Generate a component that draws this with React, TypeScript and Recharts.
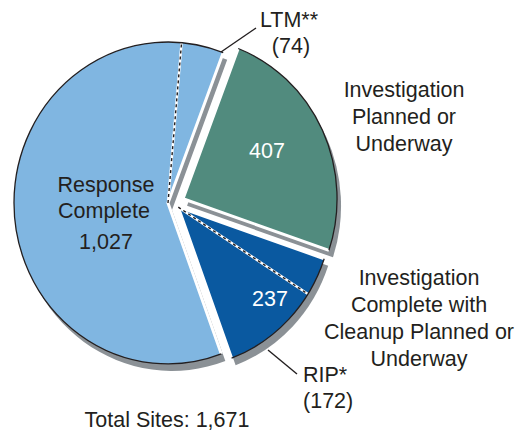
import React from "react";
import { PieChart, Pie } from "recharts";

// three main groups, clockwise from the top-right
const categories = [
  "Investigation Planned or Underway",
  "Investigation Complete with Cleanup Planned or Underway",
  "Response Complete",
];
const siteCounts = [407, 237, 1027];
// sub-groups shown by a dashed divider at the clockwise end of a slice
const subLabels = ["", "RIP*", "LTM**"];
const subCounts = [0, 172, 74];

const colors = ["#518b7e", "#0a59a0", "#80b6e1"];
const explode = [10, 6, 6];
const SHADOW = "#8b9196";
const TEXT = "#231f20";
const FONT = "'Liberation Sans', Arial, sans-serif";
const Y_RATIO = 1.045;

const data = categories.map((name, i) => ({
  name,
  value: siteCounts[i],
  sub: subCounts[i],
  idx: i,
}));
const total = siteCounts.reduce((a, b) => a + b, 0);
const fmt = (n: number) => n.toLocaleString("en-US");

const RAD = Math.PI / 180;

const pt = (cx: number, cy: number, r: number, a: number) => [
  cx + r * Math.cos(a * RAD),
  cy - r * Y_RATIO * Math.sin(a * RAD),
];

const arcPath = (cx: number, cy: number, r: number, s: number, e: number) => {
  const [x1, y1] = pt(cx, cy, r, s);
  const [x2, y2] = pt(cx, cy, r, e);
  const large = Math.abs(s - e) > 180 ? 1 : 0;
  const sweep = s > e ? 1 : 0;
  return { x1, y1, x2, y2, a: `A${r},${r * Y_RATIO} 0 ${large} ${sweep} ${x2},${y2}` };
};

const offsetOf = (p: any) => {
  const i = p.payload?.idx ?? p.index ?? 0;
  const d = explode[i];
  return { i, dx: d * Math.cos(p.midAngle * RAD), dy: -d * Math.sin(p.midAngle * RAD) };
};

const ShadowShape = (p: any) => {
  const { dx, dy } = offsetOf(p);
  const { x1, y1, a } = arcPath(p.cx, p.cy, p.outerRadius, p.startAngle, p.endAngle);
  return (
    <path
      d={`M${p.cx},${p.cy}L${x1},${y1}${a}Z`}
      fill={SHADOW}
      transform={`translate(${dx + 4},${dy + 7})`}
    />
  );
};

const SliceShape = (p: any) => {
  const { i, dx, dy } = offsetOf(p);
  const { cx, cy, outerRadius: r, startAngle: s, endAngle: e } = p;
  const { x1, y1, x2, y2, a } = arcPath(cx, cy, r, s, e);
  const sub = data[i].sub;
  let divider = null;
  if (sub > 0) {
    const da = s + ((e - s) * (data[i].value - sub)) / data[i].value;
    const [lx, ly] = pt(cx, cy, r, da);
    divider = (
      <g>
        <line x1={cx} y1={cy} x2={lx} y2={ly} stroke="#fff" strokeWidth={2.4} />
        <line x1={cx} y1={cy} x2={lx} y2={ly} stroke={TEXT} strokeWidth={1.4} strokeDasharray="3 3" />
      </g>
    );
  }
  return (
    <g transform={`translate(${dx},${dy})`}>
      <path d={`M${cx},${cy}L${x1},${y1}${a}Z`} fill={colors[i]} />
      <path
        d={`M${x1},${y1}L${cx},${cy}L${x2},${y2}`}
        fill="none"
        stroke="#fff"
        strokeWidth={3}
      />
      {divider}
      <path d={`M${x1},${y1}${a}`} fill="none" stroke={TEXT} strokeWidth={1.3} />
    </g>
  );
};

const txt = { fontFamily: FONT, fontSize: 21.5, fill: TEXT };

// labels drawn inside the slices (in the pie's label layer, above the sectors)
const InnerLabel = (p: any) => {
  const i = p.payload?.idx ?? p.index ?? 0;
  if (i === 0)
    return (
      <text x={267} y={158} textAnchor="middle" style={{ ...txt, fill: "#fff" }}>
        {fmt(siteCounts[0])}
      </text>
    );
  if (i === 1)
    return (
      <text x={270} y={306} textAnchor="middle" style={{ ...txt, fill: "#fff" }}>
        {fmt(siteCounts[1])}
      </text>
    );
  return (
    <text textAnchor="middle" style={txt}>
      <tspan x={106} y={192}>Response</tspan>
      <tspan x={104} y={218}>Complete</tspan>
      <tspan x={106} y={249}>{fmt(siteCounts[2])}</tspan>
    </text>
  );
};

export default function App() {
  return (
    <div style={{ position: "absolute", left: 0, top: 0, background: "#fff" }}>
      <PieChart width={520} height={433} margin={{ top: 0, right: 0, bottom: 0, left: 0 }}>
        <Pie
          data={data}
          dataKey="value"
          nameKey="name"
          cx={174}
          cy={203}
          outerRadius={154}
          startAngle={69}
          endAngle={-291}
          shape={ShadowShape}
          isAnimationActive={false}
          legendType="none"
        />
        <Pie
          data={data}
          dataKey="value"
          nameKey="name"
          cx={174}
          cy={203}
          outerRadius={154}
          startAngle={69}
          endAngle={-291}
          shape={SliceShape}
          label={InnerLabel}
          labelLine={false}
          isAnimationActive={false}
          legendType="none"
        />
        <line x1={221} y1={52} x2={256} y2={28} stroke={TEXT} strokeWidth={1.4} />
        <line x1={268} y1={350} x2={297} y2={374} stroke={TEXT} strokeWidth={1.4} />

        <text x={289} y={27} textAnchor="middle" style={txt}>{subLabels[2]}</text>
        <text x={291} y={53} textAnchor="middle" style={txt}>({fmt(subCounts[2])})</text>

        <text textAnchor="middle" style={txt}>
          <tspan x={404} y={97}>Investigation</tspan>
          <tspan x={404} y={124}>Planned or</tspan>
          <tspan x={404} y={151}>Underway</tspan>
        </text>

        <text textAnchor="middle" style={txt}>
          <tspan x={419} y={285}>Investigation</tspan>
          <tspan x={419} y={312}>Complete with</tspan>
          <tspan x={419} y={339}>Cleanup Planned or</tspan>
          <tspan x={419} y={366}>Underway</tspan>
        </text>

        <text x={303} y={382} style={txt}>{subLabels[1]}</text>
        <text x={303} y={408} style={txt}>({fmt(subCounts[1])})</text>

        <text x={167} y={427} textAnchor="middle" style={txt}>Total Sites: {fmt(total)}</text>
      </PieChart>
    </div>
  );
}
